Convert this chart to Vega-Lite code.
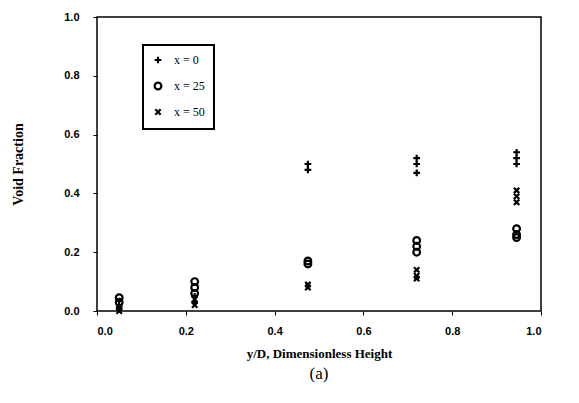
{
  "$schema": "https://vega.github.io/schema/vega-lite/v6.json",
  "width": 444,
  "height": 294,
  "autosize": {"type": "none"},
  "padding": {"left": 97, "top": 17, "right": 38, "bottom": 92},
  "background": "white",
  "title": {"text": "(a)", "orient": "bottom", "font": "Liberation Serif", "fontSize": 17, "fontWeight": "normal", "color": "black", "offset": 6},
  "config": {
    "view": {"stroke": "black", "strokeWidth": 1.5},
    "legend": {"strokeWidth": 2},
    "axis": {"grid": false, "domain": false, "tickColor": "black", "labelFont": "Liberation Sans", "labelFontWeight": "bold", "labelFontSize": 11, "labelColor": "black", "titleFont": "Liberation Serif", "titleFontWeight": "bold", "titleFontSize": 13, "titleColor": "black"}
  },
  "data": {"values": [
    {"h": 0.05, "v": 0.02, "s": "x = 0"},
    {"h": 0.05, "v": 0.01, "s": "x = 0"},
    {"h": 0.05, "v": 0.045, "s": "x = 25"},
    {"h": 0.05, "v": 0.03, "s": "x = 25"},
    {"h": 0.05, "v": 0.01, "s": "x = 50"},
    {"h": 0.05, "v": 0.0, "s": "x = 50"},
    {"h": 0.22, "v": 0.05, "s": "x = 0"},
    {"h": 0.22, "v": 0.03, "s": "x = 0"},
    {"h": 0.22, "v": 0.10, "s": "x = 25"},
    {"h": 0.22, "v": 0.08, "s": "x = 25"},
    {"h": 0.22, "v": 0.06, "s": "x = 25"},
    {"h": 0.22, "v": 0.04, "s": "x = 50"},
    {"h": 0.22, "v": 0.02, "s": "x = 50"},
    {"h": 0.475, "v": 0.50, "s": "x = 0"},
    {"h": 0.475, "v": 0.48, "s": "x = 0"},
    {"h": 0.475, "v": 0.17, "s": "x = 25"},
    {"h": 0.475, "v": 0.16, "s": "x = 25"},
    {"h": 0.475, "v": 0.09, "s": "x = 50"},
    {"h": 0.475, "v": 0.08, "s": "x = 50"},
    {"h": 0.72, "v": 0.52, "s": "x = 0"},
    {"h": 0.72, "v": 0.50, "s": "x = 0"},
    {"h": 0.72, "v": 0.47, "s": "x = 0"},
    {"h": 0.72, "v": 0.24, "s": "x = 25"},
    {"h": 0.72, "v": 0.22, "s": "x = 25"},
    {"h": 0.72, "v": 0.20, "s": "x = 25"},
    {"h": 0.72, "v": 0.14, "s": "x = 50"},
    {"h": 0.72, "v": 0.12, "s": "x = 50"},
    {"h": 0.72, "v": 0.11, "s": "x = 50"},
    {"h": 0.945, "v": 0.54, "s": "x = 0"},
    {"h": 0.945, "v": 0.52, "s": "x = 0"},
    {"h": 0.945, "v": 0.50, "s": "x = 0"},
    {"h": 0.945, "v": 0.28, "s": "x = 25"},
    {"h": 0.945, "v": 0.26, "s": "x = 25"},
    {"h": 0.945, "v": 0.25, "s": "x = 25"},
    {"h": 0.945, "v": 0.41, "s": "x = 50"},
    {"h": 0.945, "v": 0.39, "s": "x = 50"},
    {"h": 0.945, "v": 0.37, "s": "x = 50"}
  ]},
  "mark": {"type": "point", "filled": false, "strokeWidth": 2.2, "size": 45, "color": "black", "opacity": 1},
  "encoding": {
    "x": {"field": "h", "type": "quantitative", "scale": {"domain": [0, 1], "nice": false},
      "axis": {"title": "y/D, Dimensionless Height", "values": [0, 0.2, 0.4, 0.6, 0.8, 1.0], "format": ".1f", "tickSize": 4, "labelPadding": 10, "titlePadding": 11}},
    "y": {"field": "v", "type": "quantitative", "scale": {"domain": [0, 1], "nice": false},
      "axis": {"title": "Void  Fraction", "values": [0, 0.2, 0.4, 0.6, 0.8, 1.0], "format": ".1f", "tickSize": 4, "labelPadding": 14, "titlePadding": 38, "titleFontSize": 14}},
    "shape": {"field": "s", "type": "nominal",
      "scale": {"domain": ["x = 0", "x = 25", "x = 50"], "range": ["M0,-1L0,1M-1,0L1,0", "circle", "M-0.8,-0.8L0.8,0.8M0.8,-0.8L-0.8,0.8"]},
      "legend": {"title": null, "orient": "none", "legendX": 46, "legendY": 28, "padding": 9, "strokeColor": "black", "fillColor": "white",
        "labelFont": "Liberation Serif", "labelFontSize": 12, "labelColor": "black", "symbolSize": 45, "symbolStrokeColor": "black", "symbolStrokeWidth": 2.2, "symbolFillColor": "transparent", "rowPadding": 10, "labelOffset": 10}}
  }
}
